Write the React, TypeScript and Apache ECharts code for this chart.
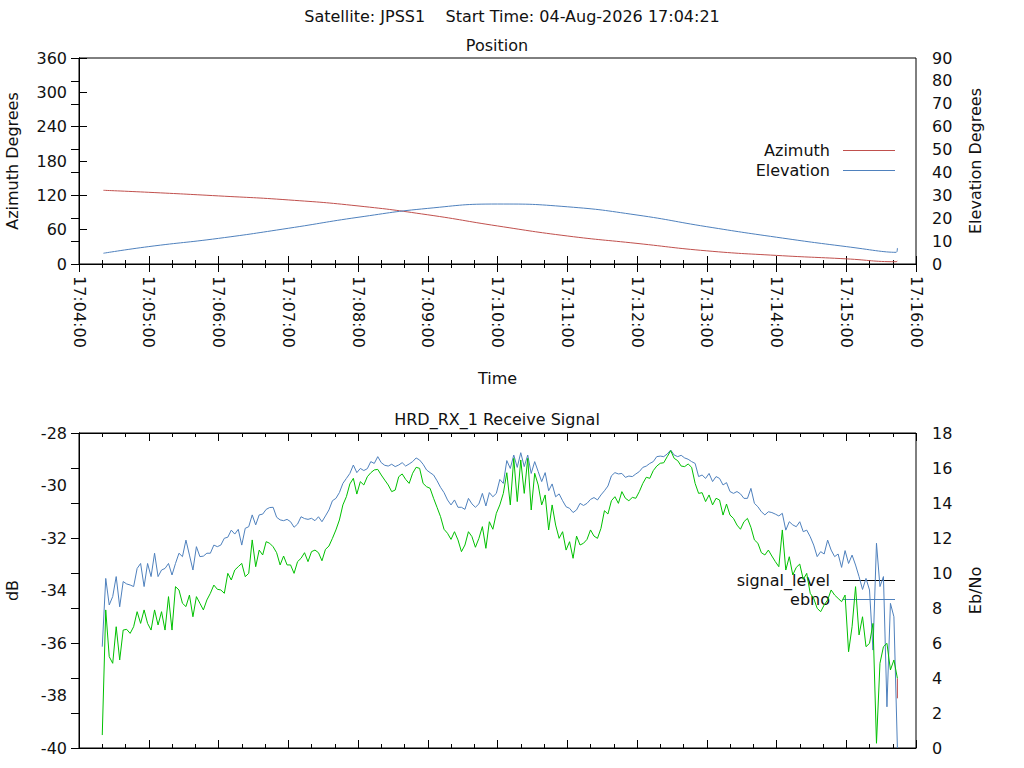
import React, { useEffect, useRef } from 'react';
import * as echarts from 'echarts';

const FONT = 'DejaVu Sans';

// seconds after 17:04:00
const positionTimes = [21, 60, 120, 180, 240, 300, 360, 420, 480, 540, 600, 660, 703, 704];
const azimuth = [128.8, 125.3, 119, 112, 101.5, 86, 66.5, 49, 36, 23, 15, 9, 4, 5.5];
const elevation = [4.7, 7.6, 11.2, 15.6, 20.4, 24.3, 26.2, 25, 21.4, 16.3, 11.7, 7.6, 5.1, 7];

// receive signal, one sample every 3 s starting at 17:04:20
const signalStart = 20;
const signalStep = 3;

const signalLevel = [
  -36.14, -33.54, -34.55, -34.23, -33.47, -34.62, -33.66, -33.75, -33.79, -33.85,
  -33.16, -32.97, -33.85, -32.97, -33.47, -32.58, -33.47, -33.22, -33.16, -32.97,
  -33.41, -32.97, -32.58, -32.71, -32.08, -32.65, -33.22, -32.33, -32.71, -32.69,
  -32.58, -32.58, -32.27, -32.33, -32.27, -32.01, -31.97, -31.70, -31.85, -31.67,
  -32.27, -31.63, -31.57, -31.12, -31.50, -31.12, -31.09, -30.91, -30.84, -30.83,
  -31.21, -31.31, -31.34, -31.29, -31.38, -31.59, -31.47, -31.19, -31.26,
  -31.29, -31.25, -31.34, -31.19, -31.38, -31.16, -30.93, -30.58, -30.49, -30.27,
  -29.92, -29.73, -29.54, -29.22, -29.51, -29.35, -29.43, -29.36, -29.09, -29.16,
  -28.90, -29.13, -29.23, -29.26, -29.19, -29.28, -29.22, -29.13, -29.26, -29.18,
  -29.09, -28.95, -29.03, -29.19, -29.41, -29.51, -29.60, -29.82, -30.07, -30.27,
  -30.55, -30.74, -30.55, -30.83, -30.83, -30.91, -30.49, -30.70, -30.83, -30.70,
  -30.30, -30.78, -30.27, -30.43, -30.30, -29.77, -29.92, -29.05,
  -29.35, -28.84, -29.31, -28.75, -29.28, -28.84, -29.54, -29.09, -29.47, -29.85,
  -29.51, -30.20, -29.94, -30.43, -30.32, -30.58, -30.81, -30.87, -31.03, -30.93,
  -30.68, -30.76, -30.68, -30.53, -30.46, -30.55, -30.36, -30.20, -30.02, -29.63,
  -29.51, -29.56, -29.54, -29.69, -29.64, -29.66, -29.56, -29.47, -29.31, -29.26,
  -29.16, -29.09, -28.90, -28.88, -28.90, -28.80, -28.65, -28.84, -28.90, -28.85,
  -28.95, -29.00, -29.09, -29.16, -29.66, -29.60, -29.73, -29.54, -29.85,
  -29.66, -29.73, -29.98, -29.89, -30.23, -30.30, -30.23, -30.32, -30.49, -30.49,
  -30.11, -30.68, -30.81, -31.00, -31.12, -31.00, -31.03, -31.09, -31.16, -31.06,
  -31.70, -31.38, -31.50, -31.57, -31.38, -31.76, -31.70, -31.95, -32.27, -32.71,
  -32.52, -32.61, -32.08, -32.46, -32.71, -32.61, -33.12, -32.48, -32.97, -32.65,
  -33.03, -33.47, -33.96, -33.54, -33.98, -36.27, -32.20, -33.85, -33.47, -38.43,
  -34.49, -35.00, -40,
];

const ebno = [
  0.74, 7.89, 5.22, 4.84, 6.93, 5.03, 6.74, 6.78, 6.55, 6.93,
  7.79, 7.12, 7.89, 7.12, 6.74, 7.89, 7.03, 7.79, 6.74, 8.65,
  6.74, 9.22, 9.03, 8.27, 8.08, 8.74, 7.50, 8.65, 8.27, 7.89,
  8.46, 8.84, 9.31, 9.07, 9.03, 8.84, 9.98, 9.60, 10.17, 10.36,
  10.55, 9.79, 9.98, 11.89, 10.36, 11.31, 11.03, 11.79, 11.70, 11.50,
  11.16, 10.46, 10.97, 10.46, 10.46, 9.98, 10.65, 10.84, 11.16,
  10.65, 11.22, 11.31, 11.16, 10.70, 11.35, 11.54, 11.98, 12.46, 13.03,
  13.89, 14.36, 15.09, 15.41, 14.51, 15.22, 15.03, 15.50, 15.73, 15.89,
  15.92, 15.60, 15.31, 15.03, 14.65, 14.74, 15.50, 15.66, 15.35, 15.12,
  15.70, 16.04, 15.98, 15.12, 14.93, 14.84, 14.27, 13.75, 13.22, 12.50,
  12.27, 11.92, 12.36, 11.89, 11.22, 11.60, 12.36, 12.08, 11.47, 11.98,
  12.65, 11.41, 12.93, 12.50, 13.41, 13.89, 14.55, 15.73,
  13.89, 16.55, 14.08, 16.46, 14.55, 16.55, 13.60, 15.70, 15.03, 13.89,
  14.46, 12.46, 13.89, 12.74, 11.98, 12.36, 11.31, 11.79, 10.84, 12.11,
  11.60, 11.70, 11.92, 12.46, 12.11, 11.98, 12.55, 13.56, 13.37, 14.13,
  14.36, 13.98, 14.65, 14.27, 14.13, 14.32, 14.27, 14.65, 15.12, 15.47,
  15.41, 15.85, 16.11, 16.27, 16.30, 16.65, 16.99, 16.55, 16.42, 16.11,
  16.08, 16.23, 16.04, 15.12, 14.55, 14.59, 14.08, 14.46, 13.89,
  14.27, 14.17, 13.31, 13.94, 13.31, 13.12, 12.74, 12.50, 12.93, 13.12,
  12.61, 11.89, 11.70, 11.16, 11.03, 11.31, 10.97, 10.65, 10.36, 12.46,
  10.17, 10.93, 9.89, 10.32, 10.51, 9.64, 9.98, 8.84, 8.55, 7.98,
  7.79, 8.17, 8.46, 9.03, 8.74, 8.55, 8.36, 8.74, 5.50, 6.93,
  9.22, 6.46, 7.50, 5.79, 5.98, 7.12, 0.27, 4.84, 5.79, 5.98,
  4.46, 5.03, 3.98,
];

// short red trace at the very end of the pass
const tailTimes = [704, 704];
const tailValues = [3.98, 2.84];

const RED = '#c0504d';
const BLUE = '#4f81bd';
const GREEN = '#00c000';

const timeLabel = (v: number) => {
  const m = 4 + Math.floor(v / 60);
  const s = Math.round(v % 60);
  return `17:${String(m).padStart(2, '0')}:${String(s).padStart(2, '0')}`;
};

const black = { color: '#000' };
const textStyle = { fontFamily: FONT, fontSize: 16, color: '#111' };

const timeAxis = (gridIndex: number, position: string, labels: boolean) => ({
  type: 'value',
  gridIndex,
  position,
  min: 0,
  max: 720,
  interval: 60,
  axisLine: { show: true, lineStyle: black },
  axisTick: { show: true, inside: true, length: 8, lineStyle: black },
  minorTick: { show: true, splitNumber: 3, length: 4, lineStyle: black },
  splitLine: { show: false },
  axisLabel: labels
    ? { show: true, rotate: -90, margin: 12, formatter: timeLabel, showMinLabel: true, showMaxLabel: true, ...textStyle }
    : { show: false },
  name: labels ? 'Time' : '',
  nameLocation: 'middle',
  nameGap: 106,
  nameTextStyle: textStyle,
});

const valueAxis = (
  gridIndex: number,
  position: string,
  min: number,
  max: number,
  interval: number,
  name: string,
  ticks: boolean
) => ({
  type: 'value',
  gridIndex,
  position,
  min,
  max,
  interval,
  axisLine: { show: true, lineStyle: black },
  axisTick: { show: ticks, inside: true, length: 8, lineStyle: black },
  splitLine: { show: false },
  axisLabel: { margin: position === 'left' ? 12 : 16, ...textStyle },
  name,
  nameLocation: 'middle',
  nameRotate: 90,
  nameGap: position === 'left' ? 59 : 51,
  nameTextStyle: textStyle,
});

const lineSeries = (name: string, x: number, y: number, color: string, data: number[][], smooth = false) => ({
  name,
  type: 'line',
  xAxisIndex: x,
  yAxisIndex: y,
  data,
  symbol: 'none',
  smooth,
  lineStyle: { color, width: 1 },
  itemStyle: { color },
});

const legendEntry = (text: string, y: number, color: string) => [
  {
    type: 'text',
    x: 830,
    y,
    style: {
      text,
      fill: '#111',
      font: `16px "${FONT}"`,
      align: 'right',
      verticalAlign: 'middle',
      textAlign: 'right',
      textVerticalAlign: 'middle',
    },
  },
  {
    type: 'line',
    shape: { x1: 843, y1: y + 0.5, x2: 895, y2: y + 0.5 },
    style: { stroke: color, lineWidth: 1 },
  },
];

const App = () => {
  const chartRef = useRef<HTMLDivElement>(null);

  useEffect(() => {
    document.body.style.margin = '0';
    if (!chartRef.current) return;
    const chart = echarts.init(chartRef.current, null, { renderer: 'svg' });

    const signalData = signalLevel.map((v, i) => [signalStart + i * signalStep, v]);
    const ebnoData = ebno.map((v, i) => [signalStart + i * signalStep, v]);

    const titleStyle = { ...textStyle, fontWeight: 'normal' };
    const gridBase = {
      left: 79,
      right: 108,
      show: true,
      borderColor: '#000',
      borderWidth: 1,
      containLabel: false,
      outerBoundsMode: 'none',
    };

    const option = {
      animation: false,
      textStyle: { fontFamily: FONT },
      title: [
        {
          text: 'Satellite: JPSS1    Start Time: 04-Aug-2026 17:04:21',
          left: 512,
          top: 8,
          textAlign: 'center',
          padding: 0,
          textStyle: titleStyle,
        },
        { text: 'Position', left: 497, top: 37, textAlign: 'center', padding: 0, textStyle: titleStyle },
        { text: 'HRD_RX_1 Receive Signal', left: 497, top: 411, textAlign: 'center', padding: 0, textStyle: titleStyle },
      ],
      grid: [
        { ...gridBase, top: 58, height: 206 },
        { ...gridBase, top: 433, height: 315 },
      ],
      xAxis: [
        timeAxis(0, 'bottom', true),
        timeAxis(0, 'top', false),
        timeAxis(1, 'bottom', false),
        timeAxis(1, 'top', false),
      ],
      yAxis: [
        valueAxis(0, 'left', 0, 360, 60, 'Azimuth Degrees', true),
        valueAxis(0, 'right', 0, 90, 10, 'Elevation Degrees', true),
        valueAxis(1, 'left', -40, -28, 2, 'dB', false),
        valueAxis(1, 'right', 0, 18, 2, 'Eb/No', true),
      ],
      series: [
        lineSeries('Azimuth', 0, 0, RED, positionTimes.map((t, i) => [t, azimuth[i]]), true),
        lineSeries('Elevation', 0, 1, BLUE, positionTimes.map((t, i) => [t, elevation[i]]), true),
        lineSeries('signal_level', 2, 2, BLUE, signalData),
        lineSeries('ebno', 2, 3, GREEN, ebnoData),
        lineSeries('tail', 2, 3, RED, tailTimes.map((t, i) => [t, tailValues[i]])),
      ],
      graphic: [
        ...legendEntry('Azimuth', 150, RED),
        ...legendEntry('Elevation', 170, BLUE),
        ...legendEntry('signal_level', 580, '#000'),
        ...legendEntry('ebno', 599, BLUE),
      ],
    };

    chart.setOption(option as any);

    return () => {
      chart.dispose();
    };
  }, []);

  return <div ref={chartRef} style={{ width: 1024, height: 768 }} />;
};

export default App;
